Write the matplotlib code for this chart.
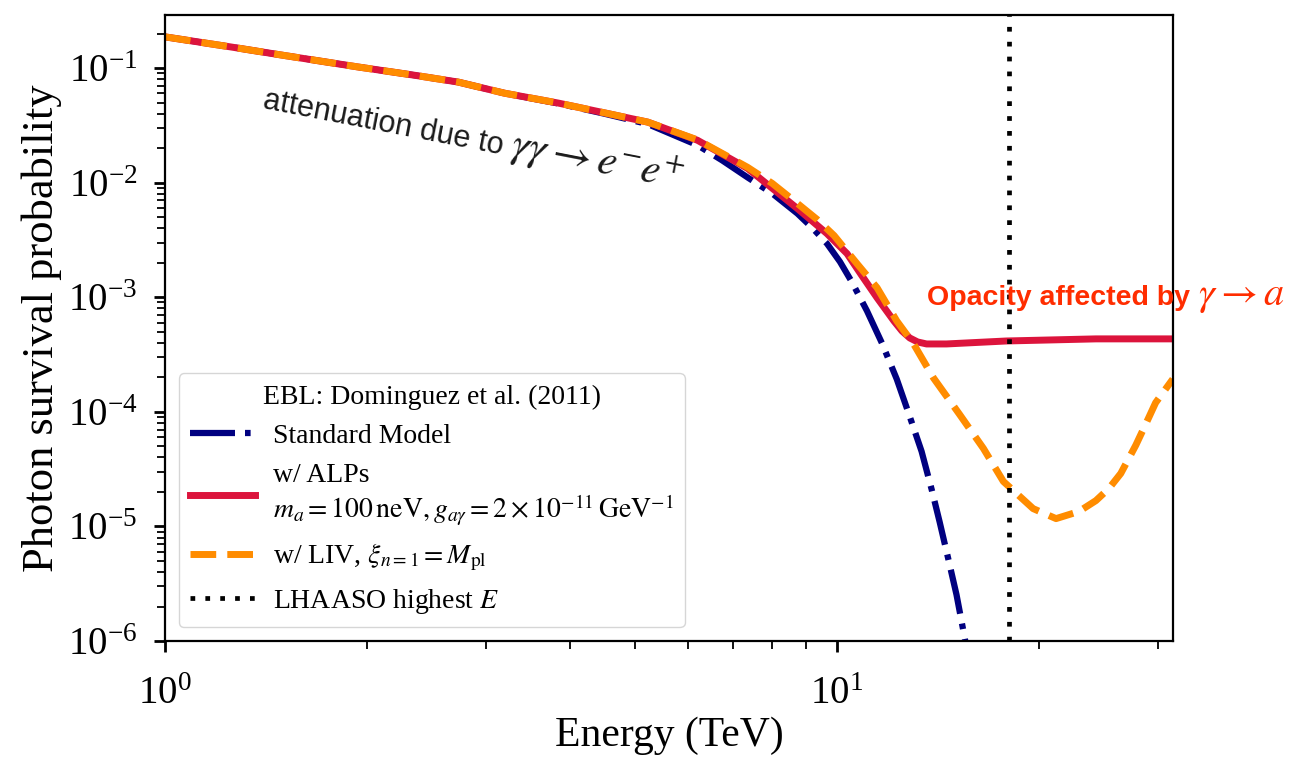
import math
import matplotlib
matplotlib.use('Agg')
import matplotlib.pyplot as plt
from matplotlib.transforms import offset_copy

# Photon survival probability vs energy
energy_sm = [1.0, 1.25, 1.5, 1.94, 2.35, 2.73, 3.2, 3.85, 4.5, 5.23, 6.2, 6.75,
             7.36, 8.01, 8.73, 9.18, 9.66, 10.10, 10.52, 11.08, 11.66, 12.27,
             12.78, 13.36, 13.83, 14.21, 14.65, 15.06, 15.48, 15.85]
prob_sm = [0.187, 0.153, 0.129, 0.102, 0.0865, 0.0754, 0.0603, 0.0490, 0.0400,
           0.0324, 0.0212, 0.0156, 0.0111, 8.04e-3, 5.37e-3, 4.05e-3, 2.94e-3,
           2.04e-3, 1.36e-3, 7.60e-4, 3.99e-4, 1.93e-4, 9.72e-5, 4.52e-5,
           2.10e-5, 1.10e-5, 5.12e-6, 2.53e-6, 1.08e-6, 5.1e-7]

energy_alp = [1.0, 1.25, 1.5, 1.94, 2.35, 2.73, 3.2, 3.85, 4.5, 5.23, 6.2, 7.36,
              8.73, 9.66, 10.35, 10.89, 11.47, 12.15, 12.49, 12.83, 13.18, 13.59,
              14.55, 17.86, 24.28, 31.6]
prob_alp = [0.187, 0.153, 0.129, 0.102, 0.0865, 0.0754, 0.0603, 0.0494, 0.0407,
            0.0337, 0.0234, 0.0133, 5.94e-3, 3.59e-3, 2.40e-3, 1.54e-3, 9.89e-4,
            6.21e-4, 5.08e-4, 4.41e-4, 4.07e-4, 3.91e-4, 3.91e-4, 4.15e-4,
            4.33e-4, 4.33e-4]

energy_liv = [1.0, 1.25, 1.5, 1.94, 2.35, 2.73, 3.2, 3.85, 4.5, 5.23, 6.2, 7.36,
              8.01, 8.73, 9.34, 9.90, 10.71, 11.47, 12.27, 13.0, 13.92, 15.21,
              16.51, 17.68, 19.58, 21.18, 22.91, 24.28, 25.38, 26.44, 27.83,
              28.79, 29.79, 31.6]
prob_liv = [0.187, 0.153, 0.129, 0.102, 0.0865, 0.0754, 0.0603, 0.0494, 0.0407,
            0.0337, 0.0236, 0.0136, 9.84e-3, 6.58e-3, 4.77e-3, 3.45e-3, 1.96e-3,
            1.21e-3, 6.21e-4, 3.91e-4, 1.97e-4, 9.53e-5, 4.80e-5, 2.47e-5,
            1.43e-5, 1.17e-5, 1.35e-5, 1.68e-5, 2.14e-5, 2.90e-5, 5.10e-5,
            7.78e-5, 1.20e-4, 1.93e-4]

lhaaso_energy = 18.0

plt.rcParams['font.family'] = 'serif'
plt.rcParams['font.serif'] = ['Liberation Serif', 'DejaVu Serif']
plt.rcParams['mathtext.fontset'] = 'stix'

fig = plt.figure(figsize=(13.13, 7.70), dpi=100)
ax = fig.add_axes([0.1257, 0.1675, 0.7677, 0.813])

ax.plot(energy_sm, prob_sm, color='navy', ls=(0, (7.2, 1.6, 0.9, 1.6)), lw=4.5,
        label='Standard Model')
ax.plot(energy_alp, prob_alp, color='crimson', ls='-', lw=5,
        label='w/ ALPs\n' + r'$m_a = 100\,\mathrm{neV}, g_{a\gamma} = 2\times10^{-11}\,\mathrm{GeV}^{-1}$')
ax.plot(energy_liv, prob_liv, color='darkorange', ls='--', lw=5,
        label=r'w/ LIV, $\xi_{n=1} = M_{\rm pl}$')
ax.axvline(lhaaso_energy, color='black', lw=3.4, ls=(0, (1, 2.15)),
           label=r'LHAASO highest $E$')

ax.set_xscale('log')
ax.set_yscale('log')
ax.set_xlim(1, 10 ** 1.5)
ax.set_ylim(1e-6, 0.29)

ax.set_xlabel('Energy (TeV)', fontsize=30, labelpad=3)
ax.set_ylabel('Photon survival probability', fontsize=32, labelpad=4)

ax.tick_params(which='major', labelsize=28, length=8, width=2)
ax.tick_params(which='minor', length=5.5, width=1.3)
ax.tick_params(axis='x', which='major', pad=17)
ax.tick_params(axis='y', which='major', pad=12)
for sp in ax.spines.values():
    sp.set_linewidth(1.6)

renderer = fig.canvas.get_renderer()


def two_part_text(x0, y0, words, maths, angle, word_kw, math_kw, gap=6):
    # sans words followed by a larger serif math part on the same baseline
    t = ax.text(x0, y0, words, transform=ax.transAxes, ha='left',
                va='baseline', **word_kw)
    w = t.get_window_extent(renderer).width + gap
    t.set_rotation(angle)
    t.set_rotation_mode('anchor')
    a = math.radians(angle)
    tr = offset_copy(ax.transAxes, fig=fig, x=w * math.cos(a),
                     y=w * math.sin(a), units='dots')
    ax.text(x0, y0, maths, transform=tr, ha='left', va='baseline',
            rotation=angle, rotation_mode='anchor', **math_kw)


two_part_text(0.096, 0.851, 'attenuation due to', r'$\gamma\gamma \to e^{-}e^{+}$',
              -11, dict(family='Liberation Sans', fontsize=22, color='#1a1a1a'),
              dict(fontsize=31, color='#1a1a1a'), gap=8)
two_part_text(0.756, 0.537, 'Opacity affected by', r'$\gamma \to a$', 0,
              dict(family='Liberation Sans', fontsize=20.5, fontweight='bold',
                   color='#ff2d00', clip_on=False),
              dict(fontsize=29, color='#ff2d00', clip_on=False), gap=8)

ax.legend(loc='lower left', fontsize=20, title='EBL: Dominguez et al. (2011)',
          title_fontsize=20, handlelength=2.34, handletextpad=0.65)

fig.savefig('out.png', dpi=100)
